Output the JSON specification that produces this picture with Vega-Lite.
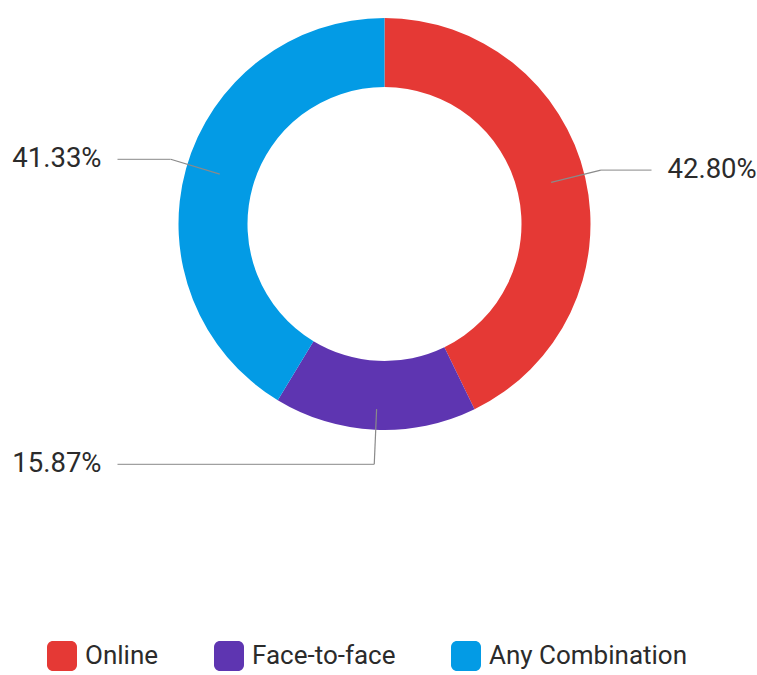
{
  "$schema": "https://vega.github.io/schema/vega-lite/v6.json",
  "width": 745,
  "height": 448,
  "autosize": {"type": "none"},
  "padding": {"left": 12, "top": 0, "right": 0, "bottom": 227},
  "config": {"view": {"stroke": null}, "font": "Roboto"},
  "data": {
    "values": [
      {"category": "Online", "value": 0.4280},
      {"category": "Face-to-face", "value": 0.1587},
      {"category": "Any Combination", "value": 0.4133}
    ]
  },
  "transform": [
    {"stack": "value", "groupby": [], "sort": [{"field": "category", "order": "descending"}], "as": ["v0", "v1"]},
    {"calculate": "PI * (datum.v0 + datum.v1)", "as": "mid"},
    {"calculate": "171 * sin(datum.mid)", "as": "xs"},
    {"calculate": "171 * cos(datum.mid)", "as": "ys"},
    {"calculate": "222 * sin(datum.mid)", "as": "xe"},
    {"calculate": "222 * cos(datum.mid)", "as": "ye"},
    {"calculate": "datum.xe < 0 ? -267 : 267", "as": "xh"},
    {"calculate": "datum.xe < 0 ? -283 : 283", "as": "xl"}
  ],
  "layer": [
    {
      "mark": {"type": "arc", "innerRadius": 137, "outerRadius": 206, "strokeWidth": 0},
      "encoding": {
        "theta": {"field": "v0", "type": "quantitative", "scale": {"domain": [0, 1]}},
        "theta2": {"field": "v1"},
        "color": {
          "field": "category",
          "type": "nominal",
          "scale": {
            "domain": ["Online", "Face-to-face", "Any Combination"],
            "range": ["#E53935", "#5E35B1", "#039BE5"]
          },
          "legend": {
            "orient": "none",
            "legendX": 35,
            "legendY": 641,
            "direction": "horizontal",
            "title": null,
            "symbolType": "M-1,-0.6 A0.4,0.4 0 0 1 -0.6,-1 L0.6,-1 A0.4,0.4 0 0 1 1,-0.6 L1,0.6 A0.4,0.4 0 0 1 0.6,1 L-0.6,1 A0.4,0.4 0 0 1 -1,0.6 Z",
            "symbolSize": 900,
            "symbolStrokeWidth": 0,
            "symbolOpacity": 1,
            "labelFontSize": 26,
            "labelFont": "Roboto",
            "labelColor": "#2b2b2b",
            "labelOffset": 8,
            "labelLimit": 400,
            "columnPadding": 55,
            "padding": 0
          }
        }
      }
    },
    {
      "mark": {"type": "rule", "color": "#8a8a8a", "strokeWidth": 1.2},
      "encoding": {
        "x": {"field": "xs", "type": "quantitative", "scale": {"domain": [-372.5, 372.5], "nice": false, "zero": false}, "axis": null},
        "y": {"field": "ys", "type": "quantitative", "scale": {"domain": [-206.7, 206.7], "nice": false, "zero": false}, "axis": null},
        "x2": {"field": "xe"},
        "y2": {"field": "ye"}
      }
    },
    {
      "mark": {"type": "rule", "color": "#a0a0a0", "strokeWidth": 1.2},
      "encoding": {
        "x": {"field": "xe", "type": "quantitative"},
        "y": {"field": "ye", "type": "quantitative"},
        "x2": {"field": "xh"}
      }
    },
    {
      "mark": {
        "type": "text",
        "fontSize": 27.5,
        "font": "Roboto",
        "color": "#2b2b2b",
        "baseline": "middle",
        "align": {"expr": "datum.xl < 0 ? 'right' : 'left'"}
      },
      "encoding": {
        "x": {"field": "xl", "type": "quantitative"},
        "y": {"field": "ye", "type": "quantitative"},
        "text": {"field": "value", "type": "quantitative", "format": ".2%"}
      }
    }
  ]
}
